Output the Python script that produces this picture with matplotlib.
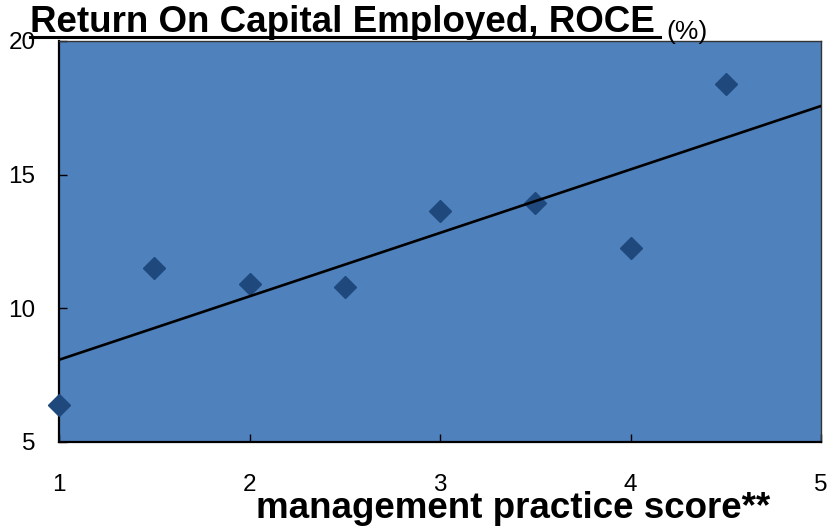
#!/usr/bin/env python3
"""ROCE vs management practice score, scatter with linear trend."""
import numpy as np
import matplotlib
matplotlib.use("Agg")
import matplotlib.pyplot as plt
from matplotlib.lines import Line2D

plt.rcParams["font.family"] = ["Liberation Sans", "DejaVu Sans"]

# values
scores = [1.0, 1.5, 2.0, 2.5, 3.0, 3.5, 4.0, 4.5]
roce = [6.4, 11.5, 10.9, 10.8, 13.65, 13.93, 12.25, 18.4]
x_ticks = [1, 2, 3, 4, 5]
y_ticks = [5, 10, 15, 20]

BG = "#4F81BD"
MARK = "#1F497D"

fig = plt.figure(figsize=(8.4, 5.31), dpi=100)
ax = fig.add_axes([59 / 840, 89 / 531, 762 / 840, 401 / 531])
ax.set_facecolor(BG)

ax.plot(scores, roce, linestyle="none", marker="D", markersize=11.5,
        color=MARK, zorder=3, clip_on=False)

# linear trend line over the full x range
slope, icpt = np.polyfit(scores, roce, 1)
xs = np.array([x_ticks[0], x_ticks[-1]])
ax.plot(xs, slope * xs + icpt, color="black", linewidth=1.9, zorder=4)

ax.set_xlim(1, 5)
ax.set_ylim(5, 20)
ax.set_xticks(x_ticks)
ax.set_yticks(y_ticks)
ax.tick_params(direction="in", length=6, width=1, labelsize=17.5)
ax.tick_params(axis="x", pad=23)
ax.tick_params(axis="y", pad=17)

for side in ("left", "bottom"):
    ax.spines[side].set_linewidth(1.6)
    ax.spines[side].set_color("black")
for side in ("top", "right"):
    ax.spines[side].set_linewidth(1.0)
    ax.spines[side].set_color("#333333")

# title with underline, then (%) in smaller regular type
title = fig.text(30 / 840, 1 - 32 / 531, "Return On Capital Employed, ROCE",
                 fontsize=26.5, fontweight="bold", ha="left", va="baseline")
fig.canvas.draw()
bb = title.get_window_extent().transformed(fig.transFigure.inverted())
y_ul = 1 - 37 / 531
fig.add_artist(Line2D([bb.x0, bb.x1 + 5 / 840], [y_ul, y_ul],
                      transform=fig.transFigure, color="black", linewidth=2.2))
fig.text(666 / 840, 1 - 39 / 531, "(%)", fontsize=19, ha="left", va="baseline")

fig.text(513 / 840, 1 - 518 / 531, "management practice score**",
         fontsize=26.5, fontweight="bold", ha="center", va="baseline")

fig.savefig("out.png", dpi=100)
